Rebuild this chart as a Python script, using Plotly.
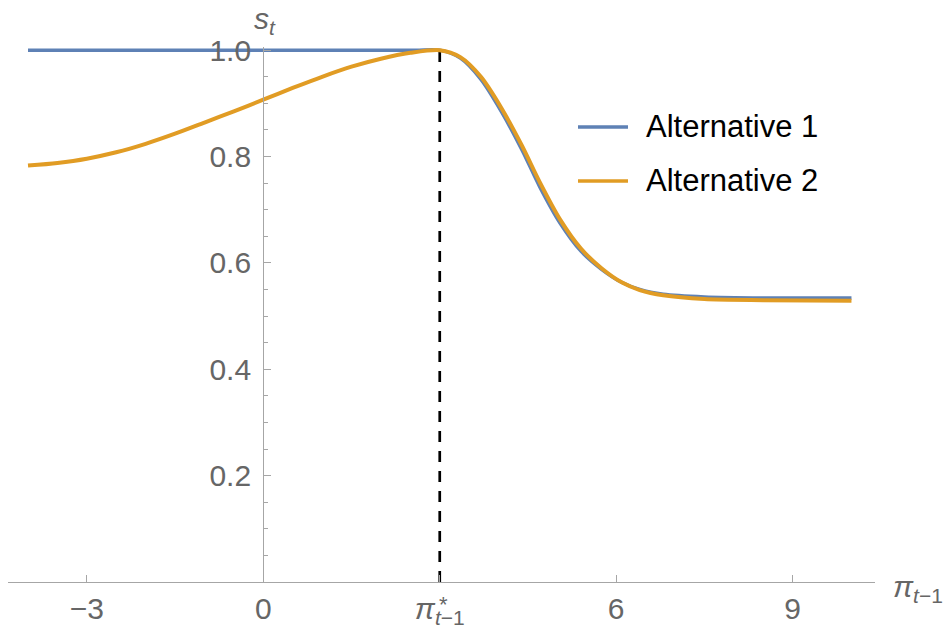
import plotly.graph_objects as go

# ---- data ----
alt1_x = [-4, -1, 2, 2.6, 3, 3.35, 3.7, 4.05, 4.4, 4.7, 5.05, 5.4, 5.75, 6.1, 6.4, 6.8, 7.5, 8.5, 10]
alt1_y = [1.0, 1.0, 1.0, 1.0, 1.0, 0.985, 0.945, 0.884, 0.812, 0.743, 0.674, 0.622, 0.588, 0.563, 0.550, 0.541, 0.536, 0.534, 0.534]

alt2_x = [-4, -3.5, -3, -2.5, -2, -1.5, -1, -0.5, 0, 0.5, 1, 1.5, 2, 2.5, 3,
          3.35, 3.7, 4.05, 4.4, 4.7, 5.05, 5.4, 5.75, 6.1, 6.4, 6.8, 7.5, 8.5, 10]
alt2_y = [0.783, 0.788, 0.796, 0.808, 0.824, 0.843, 0.864, 0.885, 0.907, 0.929, 0.950, 0.969, 0.984, 0.995, 1.0,
          0.987, 0.950, 0.891, 0.820, 0.752, 0.681, 0.627, 0.590, 0.563, 0.549, 0.539, 0.532, 0.530, 0.529]

series_names = ["Alternative 1", "Alternative 2"]
x_tick_vals = [-3, 0, 3, 6, 9]
x_tick_text = ["\u22123", "0", "<i>\u03c0</i><sub><i>t</i>\u22121</sub>", "6", "9"]
y_tick_vals = [0.2, 0.4, 0.6, 0.8, 1.0]
y_tick_text = ["0.2", "0.4", "0.6", "0.8", "1.0"]
threshold_x = 3

BLUE = "#5E81B5"
ORANGE = "#E19C24"
AXIS = "#a6a6a6"
LABEL = "#666666"
FONT = "Liberation Sans, Arial, sans-serif"

x_range = [-4.34, 10.4]
y_range = [0, 1.006]

fig = go.Figure()
fig.add_trace(go.Scatter(x=alt1_x, y=alt1_y, mode="lines", name=series_names[0],
                         line=dict(color=BLUE, width=3.4, shape="spline", smoothing=0.8),
                         showlegend=False))
fig.add_trace(go.Scatter(x=alt2_x, y=alt2_y, mode="lines", name=series_names[1],
                         line=dict(color=ORANGE, width=4, shape="spline", smoothing=0.8),
                         showlegend=False))

# dashed threshold line
fig.add_shape(type="line", x0=threshold_x, x1=threshold_x, y0=0, y1=1.0,
              xref="x", yref="y", layer="below",
              line=dict(color="black", width=2.7, dash="11px,9px"))

# y axis position (x=0) as a fraction of the x domain
ypos = (0 - x_range[0]) / (x_range[1] - x_range[0])

fig.update_layout(
    width=948, height=628,
    margin=dict(l=8, r=73, t=47, b=46),
    paper_bgcolor="white", plot_bgcolor="white",
    font=dict(family=FONT, color=LABEL, size=30),
    xaxis=dict(range=x_range, showgrid=False, zeroline=False, automargin=False,
               showline=True, linecolor=AXIS, linewidth=1.3,
               ticks="inside", ticklen=7, tickcolor=AXIS, tickwidth=1,
               tickvals=x_tick_vals, ticktext=x_tick_text,
               tickfont=dict(size=30, color=LABEL, family=FONT)),
    yaxis=dict(range=y_range, showgrid=False, zeroline=False, automargin=False,
               anchor="free", position=ypos,
               showline=True, linecolor=AXIS, linewidth=1.3,
               ticks="inside", ticklen=7, tickcolor=AXIS, tickwidth=1,
               tickvals=y_tick_vals, ticktext=y_tick_text, ticklabelstandoff=6,
               minor=dict(dtick=0.05, tick0=0, ticks="inside", ticklen=4, tickcolor=AXIS, tickwidth=1),
               tickfont=dict(size=30, color=LABEL, family=FONT)),
)

# star on the pi* tick label
fig.add_annotation(x=threshold_x, y=0, xref="x", yref="y", text="*", showarrow=False,
                   font=dict(size=22, color=LABEL, family=FONT),
                   xshift=4, yshift=-22)

# axis labels
fig.add_annotation(x=0, y=1.0, xref="x", yref="paper", text="<i>s</i><sub><i>t</i></sub>",
                   showarrow=False, yanchor="bottom", xanchor="center",
                   font=dict(size=30, color=LABEL, family=FONT), yshift=6, xshift=2)
fig.add_annotation(x=1.0, y=0, xref="paper", yref="paper",
                   text="<i>\u03c0</i><sub><i>t</i>\u22121</sub>",
                   showarrow=False, xanchor="left", yanchor="middle",
                   font=dict(size=30, color=LABEL, family=FONT), xshift=16, yshift=-6)

# manual legend
plot_left, plot_w = 8, 948 - 8 - 73
plot_bottom, plot_h = 582, 628 - 47 - 46
def px_to_paper(px, py):
    return (px - plot_left) / plot_w, (plot_bottom - py) / plot_h

for name, color, py in [(series_names[0], BLUE, 127), (series_names[1], ORANGE, 181)]:
    xa, ya = px_to_paper(578, py)
    xb, _ = px_to_paper(628, py)
    xt, _ = px_to_paper(644, py)
    fig.add_shape(type="line", xref="paper", yref="paper", x0=xa, x1=xb, y0=ya, y1=ya,
                  line=dict(color=color, width=3.4))
    fig.add_annotation(x=xt, y=ya, xref="paper", yref="paper", text=name, showarrow=False,
                       xanchor="left", yanchor="middle", yshift=1,
                       font=dict(size=31, color="black", family=FONT))

fig.write_html("out.html", config={"displayModeBar": False},
               post_script="document.body.style.margin='0';document.body.style.overflow='hidden';")
